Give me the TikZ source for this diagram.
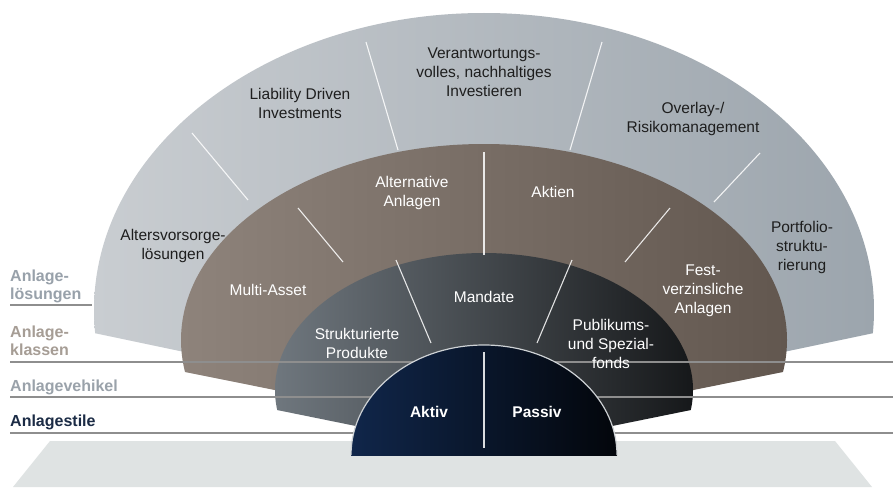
\documentclass[tikz,border=0pt]{standalone}
\usepackage{fontspec}
\setmainfont{Liberation Sans}
\usetikzlibrary{calc}
\definecolor{solutionL}{HTML}{C9CDD1}
\definecolor{solutionR}{HTML}{9CA5AD}
\definecolor{classL}{HTML}{8E837B}
\definecolor{classR}{HTML}{62574F}
\definecolor{vehicleL}{HTML}{6F777E}
\definecolor{vehicleM}{HTML}{41464B}
\definecolor{vehicleR}{HTML}{16181A}
\definecolor{styleL}{HTML}{10264A}
\definecolor{styleR}{HTML}{03060B}
\definecolor{platform}{HTML}{DFE3E3}
\definecolor{rulegray}{HTML}{8E8E8E}
\definecolor{lblsolution}{HTML}{98A1AA}
\definecolor{lblclass}{HTML}{A69D95}
\definecolor{lblvehicle}{HTML}{9AA2AA}
\definecolor{lblstyle}{HTML}{1B2B45}
\definecolor{darktext}{HTML}{1E1E1E}
\definecolor{rimgray}{HTML}{CDD1D4}

\begin{document}
\begin{tikzpicture}[x=1pt,y=-1pt,
  seglabel/.style={align=center, font=\fontsize{15.5}{19}\selectfont, inner sep=0pt},
  onlight/.style={seglabel, text=darktext},
  ondark/.style={seglabel, text=white},
  corelabel/.style={ondark, font=\fontsize{15.5}{19}\selectfont\bfseries},
  rowlabel/.style={anchor=base west, font=\fontsize{16}{18}\selectfont\bfseries, inner sep=0pt},
  divider/.style={draw=white, line width=1.1pt, opacity=0.85},
  rowrule/.style={draw=rulegray, line width=1.3pt}]
\useasboundingbox (0,0) rectangle (893,487);
\fill[white] (0,0) rectangle (893,487);

% base platform
\fill[platform] (50,441) -- (835,441) -- (872,487) -- (13,487) -- cycle;

% ring 1: Anlageloesungen
\coordinate (solL) at (94,333);
\coordinate (solR) at (874,333);
\coordinate (solP) at (484,415);
\begin{scope}
  \clip (solP) -- ($(solP)!3!(solL)$) -- (-600,-600) -- (1500,-600) -- ($(solP)!3!(solR)$) -- cycle;
  \shade[left color=solutionL, right color=solutionR] (484,310) ellipse [x radius=390pt, y radius=297pt];
\end{scope}

% ring 2: Anlageklassen
\coordinate (clsL) at (185,372);
\coordinate (clsR) at (783,372);
\coordinate (clsP) at (484,432);
\begin{scope}
  \clip (clsP) -- ($(clsP)!3!(clsL)$) -- (-600,-600) -- (1500,-600) -- ($(clsP)!3!(clsR)$) -- cycle;
  \shade[left color=classL, right color=classR] (484,340) ellipse [x radius=303pt, y radius=196pt];
\end{scope}

% ring 3: Anlagevehikel
\coordinate (vehL) at (277,410);
\coordinate (vehR) at (691,410);
\coordinate (vehP) at (484,452);
\begin{scope}
  \clip (vehP) -- ($(vehP)!3!(vehL)$) -- (-600,-600) -- (1500,-600) -- ($(vehP)!3!(vehR)$) -- cycle;
  \shade[left color=vehicleL, middle color=vehicleM, right color=vehicleR] (484,390) ellipse [x radius=209pt, y radius=137pt];
\end{scope}

% segment dividers
\draw[divider] (192,133) -- (248,200);
\draw[divider] (366,42) -- (398,150);
\draw[divider] (602,42) -- (570,150);
\draw[divider] (760,153) -- (714,202);
\draw[divider] (298,208) -- (343,262);
\draw[divider] (484,152) -- (484,255);
\draw[divider] (670,208) -- (625,262);
\draw[divider] (396,260) -- (431,343);
\draw[divider] (572,260) -- (537,343);

% row rules
\draw[rowrule] (10,305) -- (92,305);
\draw[rowrule] (10,362) -- (893,362);
\draw[rowrule] (10,397) -- (893,397);
\draw[rowrule] (10,433) -- (893,433);

% core: Anlagestile
\begin{scope}
  \clip (0,0) rectangle (893,455);
  \shade[left color=styleL, right color=styleR] (484,455) ellipse [x radius=133pt, y radius=110pt];
\end{scope}
\draw[rimgray, line width=1.2pt] (351,455) arc[start angle=180, end angle=0, x radius=133pt, y radius=110pt];
\draw[divider] (484,352) -- (484,448);

% segment labels
\node[onlight] (tVer) at (484,72) {Verantwortungs-\\volles, nachhaltiges\\Investieren};
\node[onlight] (tLdi) at (300,103) {Liability Driven\\Investments};
\node[onlight] (tOvl) at (693,119) {Overlay-/\\Risikomanagement};
\node[onlight] (tAlt) at (173,246) {Altersvorsorge-\\lösungen};
\node[onlight] (tPfs) at (802,247) {Portfolio-\\struktu-\\rierung};
\node[ondark] (tAlA) at (412,193) {Alternative\\Anlagen};
\node[ondark] (tAkt) at (553,192) {Aktien};
\node[ondark] (tMAs) at (268,290) {Multi-Asset};
\node[ondark] (tFest) at (703,291) {Fest-\\verzinsliche\\Anlagen};
\node[ondark] (tMand) at (484,297) {Mandate};
\node[ondark] (tStr) at (357,343) {Strukturierte\\Produkte};
\node[ondark] (tPub) at (611,344) {Publikums-\\und Spezial-\\fonds};
\node[corelabel] (tAktiv) at (429,412) {Aktiv};
\node[corelabel] (tPassiv) at (537,412) {Passiv};

% row labels
\node[rowlabel, text=lblsolution] (rSol1) at (10,281) {Anlage-};
\node[rowlabel, text=lblsolution] (rSol2) at (10,299) {lösungen};
\node[rowlabel, text=lblclass] (rCls1) at (10,337) {Anlage-};
\node[rowlabel, text=lblclass] (rCls2) at (10,355) {klassen};
\node[rowlabel, text=lblvehicle] (rVeh) at (10,391) {Anlagevehikel};
\node[rowlabel, text=lblstyle] (rSty) at (10,426) {Anlagestile};
\end{tikzpicture}
\end{document}
